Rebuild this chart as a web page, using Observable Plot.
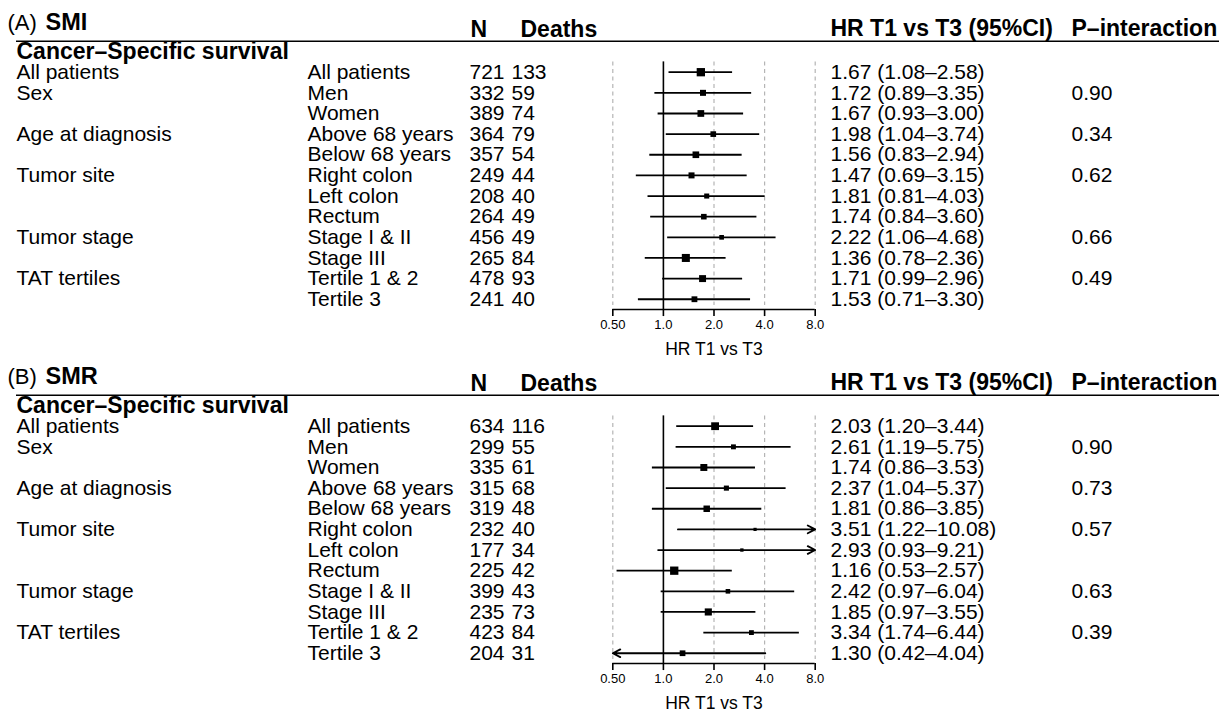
<!DOCTYPE html>
<html><head><meta charset="utf-8">
<script src="https://cdn.jsdelivr.net/npm/d3@7"></script>
<script src="https://cdn.jsdelivr.net/npm/@observablehq/plot@0.6"></script>
<style>
body{margin:0;background:#fff;color:#000;}
#chart svg{display:block;overflow:visible;}
</style></head><body><div id="chart"></div>
<script>
// ---------- data ----------
const groupLabels = ["All patients","Sex","","Age at diagnosis","","Tumor site","","","Tumor stage","","TAT tertiles",""];
const subLabels = ["All patients","Men","Women","Above 68 years","Below 68 years","Right colon","Left colon","Rectum","Stage I & II","Stage III","Tertile 1 & 2","Tertile 3"];

const smiN      = [721,332,389,364,357,249,208,264,456,265,478,241];
const smiDeaths = [133,59,74,79,54,44,40,49,49,84,93,40];
const smiHR     = [1.67,1.72,1.67,1.98,1.56,1.47,1.81,1.74,2.22,1.36,1.71,1.53];
const smiLo     = [1.08,0.89,0.93,1.04,0.83,0.69,0.81,0.84,1.06,0.78,0.99,0.71];
const smiHi     = [2.58,3.35,3.00,3.74,2.94,3.15,4.03,3.60,4.68,2.36,2.96,3.30];
const smiP      = ["","0.90","","0.34","","0.62","","","0.66","","0.49",""];

const smrN      = [634,299,335,315,319,232,177,225,399,235,423,204];
const smrDeaths = [116,55,61,68,48,40,34,42,43,73,84,31];
const smrHR     = [2.03,2.61,1.74,2.37,1.81,3.51,2.93,1.16,2.42,1.85,3.34,1.30];
const smrLo     = [1.20,1.19,0.86,1.04,0.86,1.22,0.93,0.53,0.97,0.97,1.74,0.42];
const smrHi     = [3.44,5.75,3.53,5.37,3.85,10.08,9.21,2.57,6.04,3.55,6.44,4.04];
const smrP      = ["","0.90","","0.73","","0.57","","","0.63","","0.39",""];

const tickValues = [0.5,1,2,4,8];
const tickLabels = ["0.50","1.0","2.0","4.0","8.0"];
const axisTitle = "HR T1 vs T3";
const sectionTitle = "Cancer\u2013Specific survival";
const headerN = "N", headerDeaths = "Deaths", headerHR = "HR T1 vs T3 (95%CI)", headerP = "P\u2013interaction";

// ---------- build ----------
const FONT = "'Liberation Sans', Arial, Helvetica, sans-serif";

function buildRows(n, deaths, hr, lo, hi, p) {
  const info = hi.map((h, i) => 1 / (h - lo[i]));
  const maxInfo = d3.max(info);
  return subLabels.map((s, i) => ({
    i, group: groupLabels[i], sub: s, n: String(n[i]), deaths: String(deaths[i]),
    hr: hr[i], lo: lo[i], hi: hi[i], p: p[i],
    hrText: `${hr[i].toFixed(2)} (${lo[i].toFixed(2)}\u2013${hi[i].toFixed(2)})`,
    side: 8.3 * Math.pow(info[i] / maxInfo, 0.65)
  }));
}

function panel({tag, name, rows, top, height}) {
  const step = 20.64;
  const y0 = 71.7 - top;
  const last = rows.length - 1;
  const axisRow = last + 0.5;
  const axisY = y0 + step * axisRow;
  const xMin = tickValues[0], xMax = tickValues[tickValues.length - 1];
  const inside = rows.filter(d => d.lo >= xMin && d.hi <= xMax);
  const rightClip = rows.filter(d => d.hi > xMax);
  const leftClip = rows.filter(d => d.lo < xMin);
  const col = {group: 0, sub: 291, n: 453, deaths: 495, hrText: 814, p: 1055};
  const colText = (key) => Plot.text(rows, {
    y: "i", text: key, frameAnchor: "left", textAnchor: "start", lineAnchor: "middle",
    dx: col[key], fontSize: 21
  });
  const label = (t, row, dx, size, weight) => Plot.text([t], {
    y: () => row, text: d => d, frameAnchor: "left", textAnchor: "start", lineAnchor: "middle",
    dx, fontSize: size, fontWeight: weight
  });
  return Plot.plot({
    width: 1223, height,
    marginLeft: 16, marginRight: 4, marginTop: 0, marginBottom: height - axisY,
    style: {fontFamily: FONT, background: "white", color: "black", overflow: "visible"},
    x: {type: "log", domain: [xMin, xMax], range: [612.3, 814.7], axis: null},
    y: {type: "linear", domain: [0, last], range: [y0, y0 + step * last], axis: null},
    r: {type: "identity"},
    marks: [
      // titles & headers
      label(`(${tag})`, -2.41, -9, 22, "normal"),
      label(name, -2.43, 29, 23.5, "bold"),
      label(headerN, -2.06, 454, 23, "bold"),
      label(headerDeaths, -2.06, 504, 23, "bold"),
      label(headerHR, -2.09, 814, 23, "bold"),
      label(headerP, -2.09, 1055, 23, "bold"),
      Plot.ruleY([-1.5], {strokeWidth: 1.6}),
      label(sectionTitle, -1.0, 0, 23, "bold"),
      // text columns
      colText("group"), colText("sub"), colText("n"), colText("deaths"), colText("hrText"), colText("p"),
      // grid
      Plot.ruleX(tickValues.filter(v => v !== 1), {y1: () => -0.5, y2: () => last + 0.3, stroke: "#b5b5b5", strokeDasharray: "4,3.5", strokeWidth: 1.2}),
      Plot.ruleX([1], {y1: () => -0.5, y2: () => axisRow, strokeWidth: 1.6}),
      // CIs
      Plot.ruleY(inside, {y: "i", x1: "lo", x2: "hi", strokeWidth: 1.8}),
      Plot.arrow(rightClip, {x1: "lo", x2: () => xMax, y1: "i", y2: "i", headLength: 7, headAngle: 55, strokeWidth: 1.8, stroke: "black"}),
      Plot.arrow(leftClip, {x1: "hi", x2: () => xMin, y1: "i", y2: "i", headLength: 7, headAngle: 55, strokeWidth: 1.8, stroke: "black"}),
      Plot.dot(rows, {x: "hr", y: "i", r: d => d.side / Math.sqrt(Math.PI), symbol: "square", fill: "black", stroke: "none"}),
      // axis
      Plot.ruleY([axisRow], {x1: () => xMin, x2: () => xMax, strokeWidth: 1.6}),
      Plot.ruleX(tickValues, {x: d => d, y1: () => axisRow, y2: () => axisRow + 7 / step, strokeWidth: 1.6}),
      Plot.text(tickValues, {x: d => d, y: () => axisRow, dy: 15.5, text: (d, i) => tickLabels[i], textAnchor: "middle", lineAnchor: "middle", fontSize: 13}),
      Plot.text([axisTitle], {x: () => Math.sqrt(xMin * xMax), y: () => axisRow + 1.93, text: d => d, textAnchor: "middle", lineAnchor: "middle", fontSize: 17.5})
    ]
  });
}

const chart = document.getElementById("chart");
chart.append(panel({tag: "A", name: "SMI", rows: buildRows(smiN, smiDeaths, smiHR, smiLo, smiHi, smiP), top: 0, height: 362}));
chart.append(panel({tag: "B", name: "SMR", rows: buildRows(smrN, smrDeaths, smrHR, smrLo, smrHi, smrP), top: 8, height: 348}));
</script>
</body></html>
